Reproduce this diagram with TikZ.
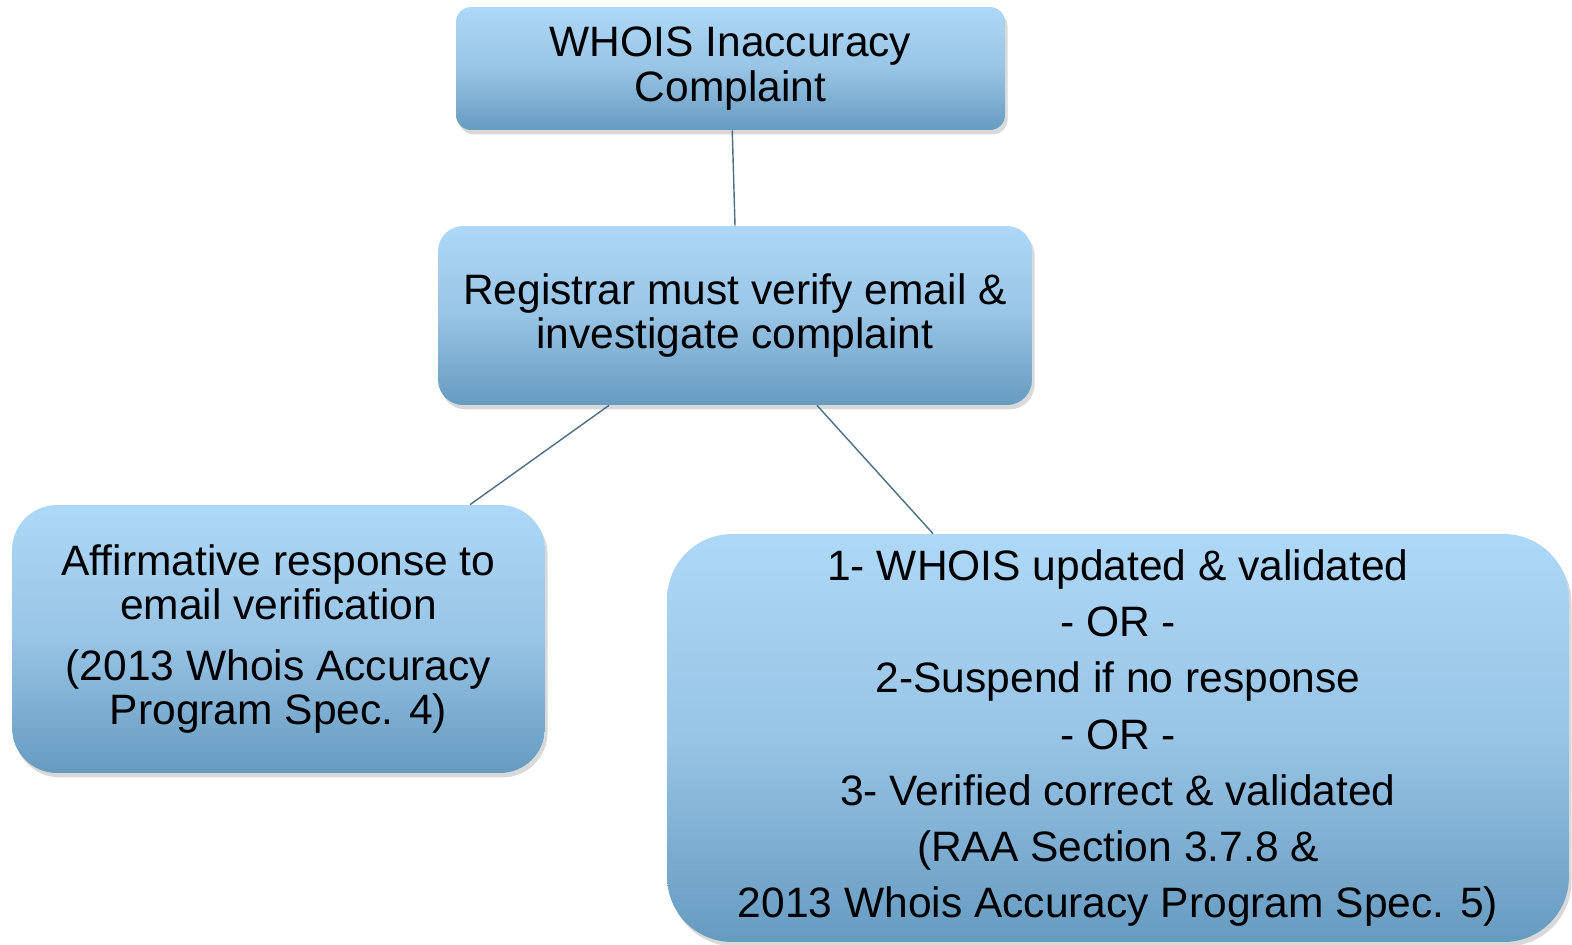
\documentclass[tikz,border=0pt]{standalone}
\usepackage{fontspec}
\setmainfont{Liberation Sans}
\usetikzlibrary{shadows}

\definecolor{boxtop}{HTML}{AED8F7}
\definecolor{boxmid}{HTML}{98C4E5}
\definecolor{boxbot}{HTML}{669BC0}
\definecolor{linkcol}{HTML}{4B6E84}

\tikzset{
  stepbox/.style={rounded corners=#1, top color=boxtop, bottom color=boxbot,
    middle color=boxmid, draw=none, align=center, inner sep=0pt,
    drop shadow={opacity=0.3, shadow xshift=1.5pt, shadow yshift=-2.5pt},
    font=\fontsize{24.2}{25.3}\selectfont},
  stepbox/.default=0.3cm,
  link/.style={draw=linkcol, line width=0.8pt}
}

\begin{document}
\begin{tikzpicture}[x=0.02cm, y=-0.02cm]
  \useasboundingbox (0,0) rectangle (1572,944);

  % boxes
  \node [stepbox=0.3cm, minimum width=10.98cm, minimum height=2.46cm] (complaint) at (730.5,68.5)
    {WHOIS Inaccuracy\\Complaint};
  \node [stepbox=0.5cm, minimum width=11.88cm, minimum height=3.58cm] (verify) at (735,315.5)
    {Registrar must verify email \&\\investigate complaint};
  \node [stepbox=0.9cm, minimum width=10.66cm, minimum height=5.36cm] (affirm) at (278.5,639)
    {Affirmative response to\\email verification\\[9pt]
     (2013 Whois Accuracy\\Program Spec. 4)};
  \node [stepbox=1.3cm, minimum width=18.04cm, minimum height=8.16cm,
         font=\fontsize{24.2}{32}\selectfont] (outcome) at (1118,738)
    {1- WHOIS updated \& validated\\- OR -\\2-Suspend if no response\\- OR -\\
     3- Verified correct \& validated\\(RAA Section 3.7.8 \&\\
     2013 Whois Accuracy Program Spec. 5)};

  % connectors
  \coordinate (vl) at ([xshift=-2.52cm]verify.south);
  \coordinate (vr) at ([xshift=1.64cm]verify.south);
  \coordinate (al) at ([xshift=3.83cm]affirm.north);
  \coordinate (ol) at ([xshift=-3.7cm]outcome.north);
  \draw [link] ([xshift=1pt]complaint.south) -- (verify.north);
  \draw [link] (vl) -- (al);
  \draw [link] (vr) -- (ol);
\end{tikzpicture}
\end{document}
